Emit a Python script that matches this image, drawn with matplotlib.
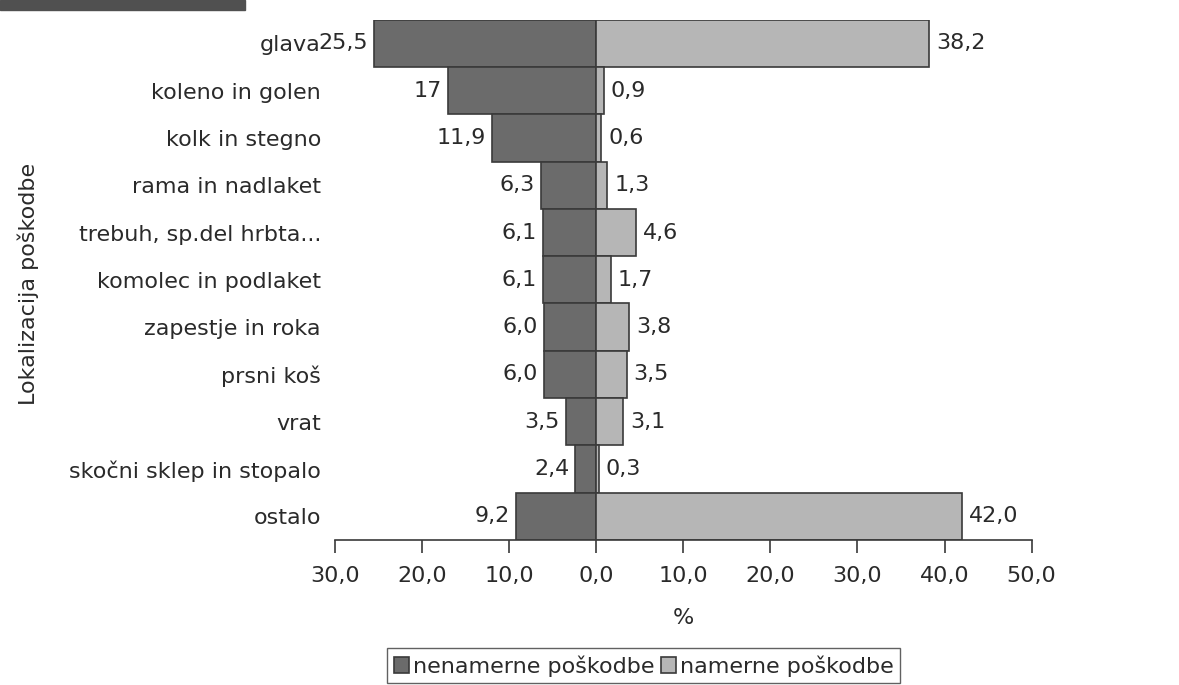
import matplotlib.pyplot as plt
import numpy as np
from matplotlib.patches import Rectangle

categories = ["glava", "koleno in golen", "kolk in stegno", "rama in nadlaket",
              "trebuh, sp.del hrbta...", "komolec in podlaket", "zapestje in roka",
              "prsni koš", "vrat", "skočni sklep in stopalo", "ostalo"]
nenamerne = [25.5, 17, 11.9, 6.3, 6.1, 6.1, 6.0, 6.0, 3.5, 2.4, 9.2]
namerne = [38.2, 0.9, 0.6, 1.3, 4.6, 1.7, 3.8, 3.5, 3.1, 0.3, 42.0]
nenamerne_labels = ["25,5", "17", "11,9", "6,3", "6,1", "6,1", "6,0", "6,0", "3,5", "2,4", "9,2"]
namerne_labels = ["38,2", "0,9", "0,6", "1,3", "4,6", "1,7", "3,8", "3,5", "3,1", "0,3", "42,0"]
xticks = [-30, -20, -10, 0, 10, 20, 30, 40, 50]
xtick_labels = ["30,0", "20,0", "10,0", "0,0", "10,0", "20,0", "30,0", "40,0", "50,0"]

dark = "#6b6b6b"
light = "#b6b6b6"
edge = "#3a3a3a"
txt = "#2a2a2a"
fs = 16

fig = plt.figure(figsize=(11.79, 6.85), dpi=100)
ax = fig.add_axes([0.284, 0.212, 0.591, 0.759])

y = np.arange(len(categories))
ax.barh(y, -np.array(nenamerne), height=1.0, color=dark, edgecolor=edge, linewidth=1.2,
        label="nenamerne poškodbe")
ax.barh(y, namerne, height=1.0, color=light, edgecolor=edge, linewidth=1.2,
        label="namerne poškodbe")

for i in range(len(categories)):
    ax.text(-nenamerne[i] - 0.7, y[i], nenamerne_labels[i], ha="right", va="center",
            fontsize=fs, color=txt)
    ax.text(namerne[i] + 0.8, y[i], namerne_labels[i], ha="left", va="center",
            fontsize=fs, color=txt)

ax.set_ylim(len(categories) - 0.5, -0.5)
ax.set_xlim(-30, 50)
ax.set_yticks(y)
ax.set_yticklabels(categories, fontsize=fs, color=txt)
ax.tick_params(axis="y", length=0, pad=10)
ax.set_xticks(xticks)
ax.set_xticklabels(xtick_labels, fontsize=fs, color=txt)
ax.tick_params(axis="x", length=9, width=1.2, color=edge, pad=10)
for s in ["top", "right", "left"]:
    ax.spines[s].set_visible(False)
ax.spines["bottom"].set_linewidth(1.2)
ax.spines["bottom"].set_color(edge)
ax.set_xlabel("%", fontsize=fs, color=txt, labelpad=16)
fig.text(0.024, 0.585, "Lokalizacija poškodbe", rotation=90, ha="center", va="center",
         fontsize=fs, color=txt)

leg = fig.legend(loc="center", bbox_to_anchor=(0.546, 0.028), ncol=2, fontsize=fs,
                 frameon=True, fancybox=False, edgecolor=edge, handlelength=0.7,
                 handleheight=0.7, handletextpad=0.15, columnspacing=0.3,
                 borderpad=0.3)
for t in leg.get_texts():
    t.set_color(txt)

# dark strip at the top-left of the scan
fig.patches.append(Rectangle((0, 0.985), 0.208, 0.015, transform=fig.transFigure,
                             color="#505050", zorder=0))

fig.savefig("out.png", dpi=100)
